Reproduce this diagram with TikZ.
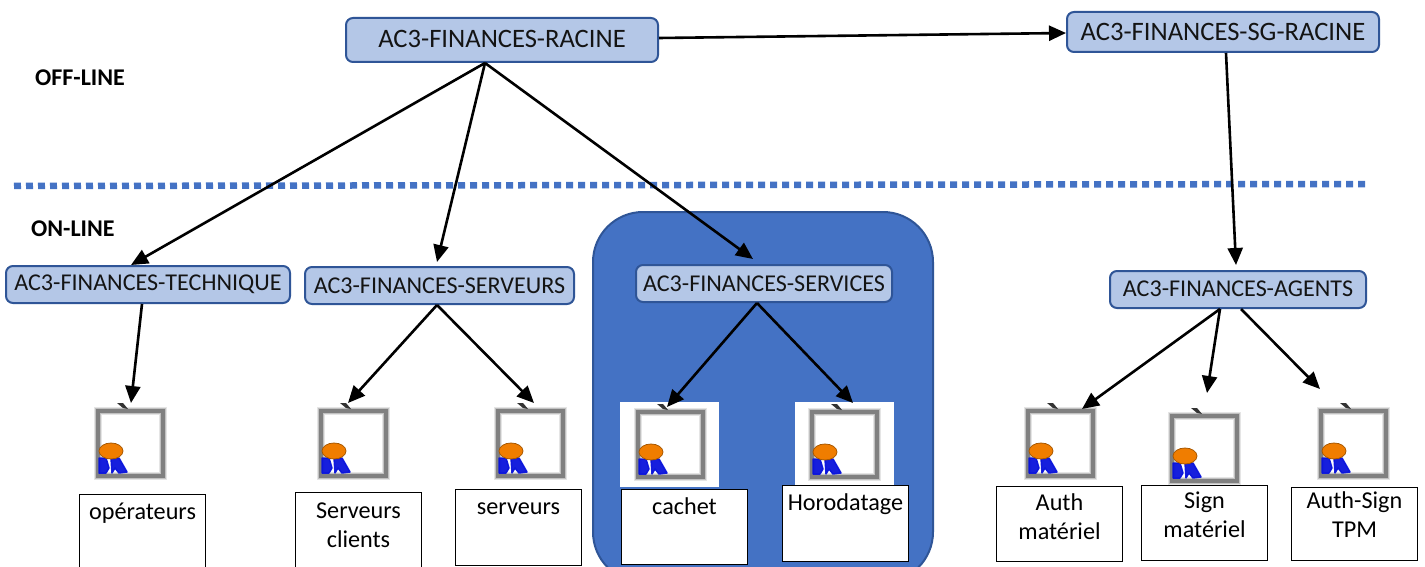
\documentclass[tikz,border=0pt]{standalone}
\usepackage{fontspec}
\setmainfont{Carlito}
\usetikzlibrary{arrows.meta}
\definecolor{panelblue}{HTML}{4472C4}
\definecolor{edgeblue}{HTML}{2F5597}
\definecolor{lightblue}{HTML}{B4C7E7}
\definecolor{medal}{HTML}{F07D00}
\definecolor{ribbon}{HTML}{0A14DC}
\newcommand{\tbox}[2]{\parbox[c][#1][t]{126pt}{\centering\fontsize{24.2}{29}\selectfont #2}}
\tikzset{
  x=1pt,y=-1pt,
  ca/.style={draw=edgeblue,fill=lightblue,line width=2pt,rounded corners=7pt,inner sep=0pt,
    font=\fontsize{24.1}{28}\selectfont,anchor=north west,text=black!92},
  cabig/.style={ca,font=\fontsize{26.6}{30}\selectfont},
  textbox/.style={draw=black,fill=white,line width=1pt,inner sep=0pt,anchor=north west},
  conn/.style={draw=black,line width=2.6pt,-{Triangle[length=17pt,width=15pt]}},
  iconspot/.style={minimum width=71pt,minimum height=70pt,inner sep=0pt,anchor=north west},
  side/.style={anchor=west,inner sep=0pt,font=\fontsize{24}{28}\selectfont\bfseries},
  cert/.pic={
    \draw[black!50,opacity=.2,line width=8.5pt] (3,3) rectangle (68,68);
    \draw[black!50,opacity=.35,line width=6.5pt] (3,3) rectangle (68,68);
    \draw[black!50,line width=4.4pt] (3,3) rectangle (68,68);
    \fill[black!80] (22,-5) -- (28,-5) -- (33,1) -- (28,0) -- cycle;
    \filldraw[ribbon,line width=1.5pt,line join=round,opacity=.95] (4,50) -- (11,50) -- (14,60) -- (11,65) -- (4,65) -- cycle;
    \filldraw[ribbon,line width=1.5pt,line join=round,opacity=.95] (16,50) -- (24,50) -- (32,64) -- (24,65) -- (20,60) -- (17,65) -- cycle;
    \filldraw[fill=medal,draw=medal!70!black,line width=.8pt] (16,43) ellipse [x radius=12,y radius=8];
  }
}
\begin{document}
\begin{tikzpicture}
\useasboundingbox (0,0) rectangle (1425,567);
\clip (0,0) rectangle (1425,567);
\fill[white] (0,0) rectangle (1425,567);
% panel
\draw[draw=edgeblue,fill=panelblue,line width=2pt,rounded corners=50pt] (593,212) rectangle (933,582);
% separator
\coordinate (sepL) at (14,186);
\coordinate (sepR) at (1366,184);
\draw[panelblue,line width=6.5pt,dash pattern=on 7pt off 5pt] (sepL) -- (sepR);
\node[side] (off) at (35,78) {OFF-LINE};
\node[side] (on) at (31,229) {ON-LINE};
% white backgrounds of the icons on the panel
\fill[white] (620,402) rectangle (719,487);
\fill[white] (795,402) rectangle (894,487);
% icons
\foreach \n/\px/\py in {ic1/95/408,ic2/318/408,ic3/495/408,ic4/635/409,ic5/809/409,ic6/1025/408,ic7/1169/413,ic8/1318/408}{
  \node[iconspot] (\n) at (\px,\py) {};
  \pic at (\px,\py) {cert};
}
% CA nodes
\node[cabig,minimum width=312pt,minimum height=44pt] (racine) at (345,17) {\raisebox{2pt}{AC3-FINANCES-RACINE}};
\node[cabig,minimum width=312pt,minimum height=40pt] (sg) at (1066,11) {\raisebox{1pt}{AC3-FINANCES-SG-RACINE}};
\node[ca,minimum width=284pt,minimum height=37pt] (tech) at (5,265) {AC3-FINANCES-TECHNIQUE};
\node[ca,minimum width=269pt,minimum height=37pt] (serv) at (304,266) {AC3-FINANCES-SERVEURS};
\node[ca,minimum width=256pt,minimum height=37pt] (svc) at (635,264) {AC3-FINANCES-SERVICES};
\node[ca,minimum width=256pt,minimum height=37pt] (agents) at (1109,270) {\raisebox{1pt}{AC3-FINANCES-AGENTS}};
% text boxes
\node[textbox] (t1) at (79,494) {\tbox{80pt}{\vspace*{8pt}opérateurs}};
\node[textbox] (t2) at (295,492) {\tbox{80pt}{\vspace*{10pt}Serveurs\\clients}};
\node[textbox] (t3) at (455,489) {\tbox{76pt}{\vspace*{13pt}serveurs}};
\node[textbox] (t4) at (621,489) {\tbox{75pt}{\vspace*{8pt}cachet}};
\node[textbox] (t5) at (782,485) {\tbox{76pt}{\vspace*{8pt}Horodatage}};
\node[textbox] (t6) at (996,486) {\tbox{75pt}{\vspace*{7pt}Auth\\matériel}};
\node[textbox] (t7) at (1141,485) {\tbox{75pt}{\vspace*{6pt}Sign\\matériel}};
\node[textbox] (t8) at (1291,487) {\tbox{73pt}{\vspace*{4pt}Auth-Sign\\TPM}};
% connectors
\draw[conn] ([yshift=2pt]racine.east) -- ([yshift=-1pt]sg.west);
\draw[conn] ([xshift=140pt]racine.south west) -- ([xshift=126pt]tech.north west);
\draw[conn] ([xshift=140pt]racine.south west) -- ([xshift=133pt,yshift=4pt]serv.north west);
\draw[conn] ([xshift=140pt]racine.south west) -- ([xshift=118pt,yshift=5pt]svc.north west);
\draw[conn] ([xshift=160pt]sg.south west) -- ([xshift=127pt,yshift=5pt]agents.north west);
\draw[conn] ([xshift=137pt]tech.south west) -- ([xshift=36pt,yshift=5pt]ic1.north west);
\draw[conn] ([xshift=133pt]serv.south west) -- ([xshift=30pt,yshift=5pt]ic2.north west);
\draw[conn] ([xshift=133pt]serv.south west) -- ([xshift=39pt,yshift=5pt]ic3.north west);
\draw[conn] ([xshift=122pt]svc.south west) -- ([xshift=32pt,yshift=2pt]ic4.north west);
\draw[conn] ([xshift=122pt]svc.south west) -- ([xshift=44pt,yshift=6pt]ic5.north west);
\draw[conn] ([xshift=111pt]agents.south west) -- ([xshift=57pt,yshift=-1pt]ic6.north west);
\draw[conn] ([xshift=111pt]agents.south west) -- ([xshift=38pt,yshift=20pt]ic7.north west);
\draw[conn] ([xshift=132pt]agents.south west) -- ([xshift=2pt,yshift=19pt]ic8.north west);
\end{tikzpicture}
\end{document}
